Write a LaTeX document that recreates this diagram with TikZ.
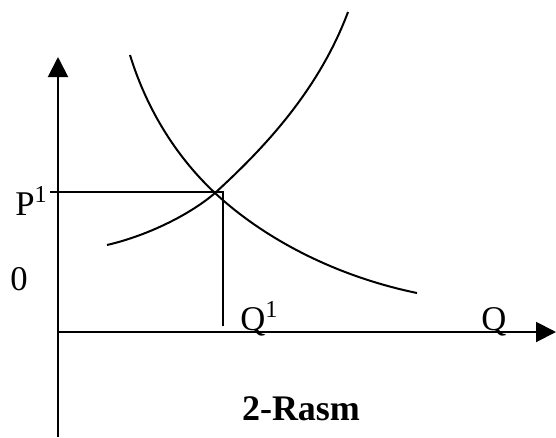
\documentclass[tikz,border=0pt]{standalone}
\usepackage{fontspec}
\setmainfont{Liberation Serif}
\usetikzlibrary{arrows.meta}
\begin{document}
\begin{tikzpicture}[x=0.75pt,y=-0.75pt,
  axis/.style={line width=1.5pt,-{Triangle[length=15pt,width=15pt]}},
  ln/.style={line width=1.5pt},
  lbl/.style={font=\fontsize{26}{29}\selectfont,inner sep=0pt,anchor=base west},
  titletext/.style={font=\fontsize{27}{30}\selectfont\bfseries,inner sep=0pt,anchor=base}]
\useasboundingbox (0,0) rectangle (556,437);
% axes
\coordinate (O) at (58,332);
\coordinate (ybot) at (58,437);
\coordinate (ytop) at (58,57);
\coordinate (xend) at (556,332);
\draw[axis] (ybot) -- (ytop);
\draw[axis] (O) -- (xend);
% equilibrium
\coordinate (E) at (223,192);
\coordinate (pstart) at (50,192);
\coordinate (qend) at (223,326);
\draw[ln] (pstart) -- (E) -- (qend);
% demand
\coordinate (D0) at (130,55);
\coordinate (X) at (215,193);
\coordinate (D1) at (417,293);
\draw[ln] (D0) .. controls (150,120) and (185,165) .. (X)
               .. controls (260,235) and (330,275) .. (D1);
% supply
\coordinate (S0) at (107,245);
\coordinate (S1) at (348,12);
\draw[ln] (S0) .. controls (150,235) and (192,213) .. (X)
               .. controls (262,150) and (318,92) .. (S1);
% labels
\node[lbl] (P1) at (15,215) {P\textsuperscript{1}};
\node[lbl] (zero) at (10,290) {0};
\node[lbl] (Q1) at (240,330) {Q\textsuperscript{1}};
\node[lbl] (Q) at (481,330) {Q};
\node[titletext] (title) at (301,420) {2-Rasm};
\end{tikzpicture}
\end{document}
